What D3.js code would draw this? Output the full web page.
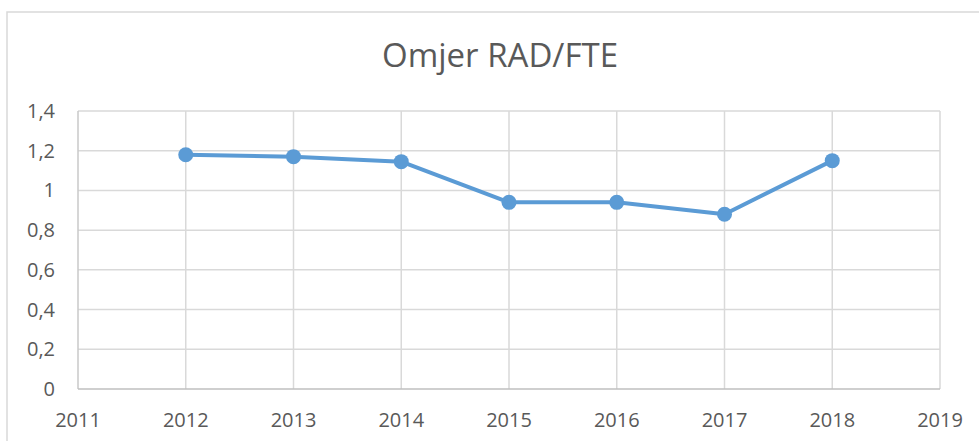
<!DOCTYPE html>
<html>
<head>
<meta charset="utf-8">
<script src="https://cdn.jsdelivr.net/npm/d3@7"></script>
<style>
  html, body { margin: 0; padding: 0; background: #fff; }
  svg { display: block; }
</style>
</head>
<body>
<svg id="chart" width="979" height="441"></svg>
<script>
const title = "Omjer RAD/FTE";
const years = [2012, 2013, 2014, 2015, 2016, 2017, 2018];
const values = [1.18, 1.17, 1.145, 0.94, 0.94, 0.88, 1.15];
const xTicks = [2011, 2012, 2013, 2014, 2015, 2016, 2017, 2018, 2019];
const yTicks = [0, 0.2, 0.4, 0.6, 0.8, 1, 1.2, 1.4];

const svg = d3.select("#chart");
const font = "'Open Sans', sans-serif";
const textColor = "#595959";

// chart border
svg.append("rect")
  .attr("x", 7).attr("y", 12)
  .attr("width", 1000).attr("height", 500)
  .attr("fill", "none").attr("stroke", "#d9d9d9").attr("stroke-width", 1.5);

const x = d3.scaleLinear().domain([2011, 2019]).range([78, 940]);
const y = d3.scaleLinear().domain([0, 1.4]).range([389, 111]);

// horizontal gridlines
svg.append("g").selectAll("line").data(yTicks.filter(d => d > 0)).join("line")
  .attr("x1", x(2011)).attr("x2", x(2019))
  .attr("y1", d => y(d)).attr("y2", d => y(d))
  .attr("stroke", "#d9d9d9").attr("stroke-width", 1.5);

// vertical gridlines
svg.append("g").selectAll("line").data(xTicks.filter(d => d > 2011)).join("line")
  .attr("x1", d => x(d)).attr("x2", d => x(d))
  .attr("y1", y(0)).attr("y2", y(1.4))
  .attr("stroke", "#d9d9d9").attr("stroke-width", 1.5);

// axes lines
svg.append("line")
  .attr("x1", x(2011)).attr("x2", x(2011)).attr("y1", y(0)).attr("y2", y(1.4))
  .attr("stroke", "#c8c8c8").attr("stroke-width", 1.5);
svg.append("line")
  .attr("x1", x(2011)).attr("x2", x(2019)).attr("y1", y(0)).attr("y2", y(0))
  .attr("stroke", "#bfbfbf").attr("stroke-width", 1.5);

// y labels
const fmt = d => d3.format(".1~f")(d).replace(".", ",");
svg.append("g").selectAll("text").data(yTicks).join("text")
  .attr("x", 55).attr("y", d => y(d))
  .attr("dy", "0.35em")
  .attr("text-anchor", "end")
  .attr("font-family", font).attr("font-size", 20)
  .attr("fill", textColor)
  .text(fmt);

// x labels
svg.append("g").selectAll("text").data(xTicks).join("text")
  .attr("x", d => x(d)).attr("y", 420)
  .attr("dy", "0.35em")
  .attr("text-anchor", "middle")
  .attr("font-family", font).attr("font-size", 20)
  .attr("fill", textColor)
  .text(d => d);

// title
svg.append("text")
  .attr("x", 500).attr("y", 67)
  .attr("text-anchor", "middle")
  .attr("font-family", font).attr("font-size", 33)
  .attr("fill", textColor)
  .text(title);

// line
const data = years.map((yr, i) => ({ yr, v: values[i] }));
svg.append("path")
  .datum(data)
  .attr("fill", "none")
  .attr("stroke", "#5b9bd5")
  .attr("stroke-width", 4)
  .attr("stroke-linejoin", "round")
  .attr("d", d3.line().x(d => x(d.yr)).y(d => y(d.v)));

svg.append("g").selectAll("circle").data(data).join("circle")
  .attr("cx", d => x(d.yr)).attr("cy", d => y(d.v))
  .attr("r", 7.5)
  .attr("fill", "#5b9bd5");
</script>
</body>
</html>
